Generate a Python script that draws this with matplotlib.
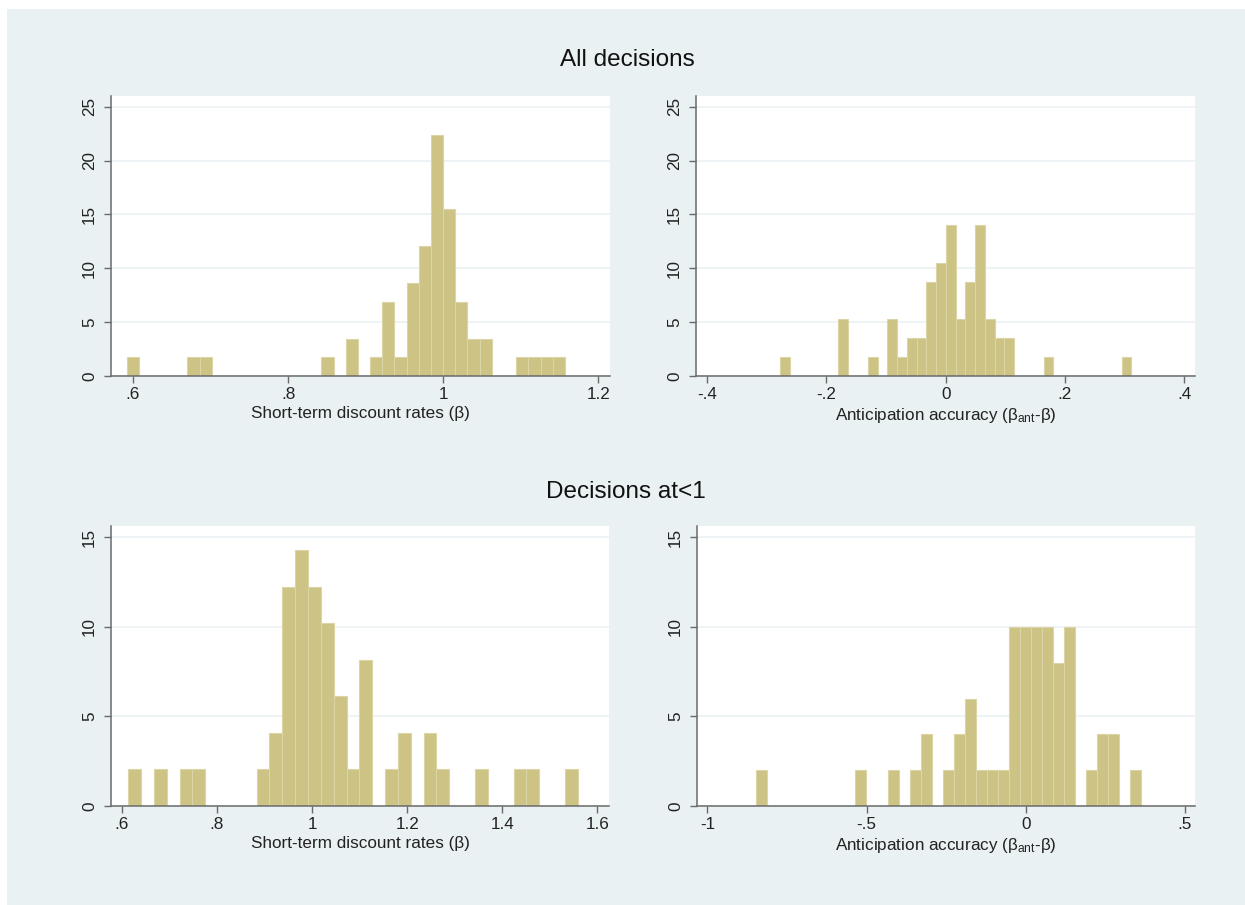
import matplotlib
matplotlib.use('Agg')
import matplotlib.pyplot as plt
import numpy as np
from matplotlib.patches import Rectangle

plt.rcParams['font.family'] = ['Liberation Sans', 'DejaVu Sans']
plt.rcParams['mathtext.fontset'] = 'custom'
plt.rcParams['mathtext.rm'] = 'Liberation Sans'
plt.rcParams['mathtext.it'] = 'Liberation Sans:italic'

# ---------------- data ----------------
row_titles = ['All decisions', 'Decisions at<1']
xlabel_beta = 'Short-term discount rates (β)'
xlabel_acc = 'Anticipation accuracy (β$_{\\mathrm{ant}}$-β)'

# top-left: short-term discount rates, all decisions (percent)
p1_start, p1_width = 0.5917, 0.0157
p1_heights = [1.72, 0, 0, 0, 0, 1.72, 1.72, 0, 0, 0,
              0, 0, 0, 0, 0, 0, 1.72, 0, 3.45, 0,
              1.72, 6.9, 1.72, 8.62, 12.07, 22.41, 15.52, 6.9, 3.45, 3.45,
              0, 0, 1.72, 1.72, 1.72, 1.72]
p1_xticks = [0.6, 0.8, 1.0, 1.2]
p1_xticklabels = ['.6', '.8', '1', '1.2']

# top-right: anticipation accuracy, all decisions
p2_start, p2_width = -0.2779, 0.01637
p2_heights = [1.75, 0, 0, 0, 0, 0, 5.26, 0, 0, 1.75,
              0, 5.26, 1.75, 3.51, 3.51, 8.77, 10.53, 14.04, 5.26, 8.77,
              14.04, 5.26, 3.51, 3.51, 0, 0, 0, 1.75, 0, 0,
              0, 0, 0, 0, 0, 1.75]
p2_xticks = [-0.4, -0.2, 0.0, 0.2, 0.4]
p2_xticklabels = ['-.4', '-.2', '0', '.2', '.4']

# bottom-left: short-term discount rates, decisions at<1
p3_start, p3_width = 0.6135, 0.0270
p3_heights = [2.04, 0, 2.04, 0, 2.04, 2.04, 0, 0, 0, 0,
              2.04, 4.08, 12.24, 14.29, 12.24, 10.2, 6.12, 2.04, 8.16, 0,
              2.04, 4.08, 0, 4.08, 2.04, 0, 0, 2.04, 0, 0,
              2.04, 2.04, 0, 0, 2.04]
p3_xticks = [0.6, 0.8, 1.0, 1.2, 1.4, 1.6]
p3_xticklabels = ['.6', '.8', '1', '1.2', '1.4', '1.6']

# bottom-right: anticipation accuracy, decisions at<1
p4_start, p4_width = -0.847, 0.0345
p4_heights = [2, 0, 0, 0, 0, 0, 0, 0, 0, 2,
              0, 0, 2, 0, 2, 4, 0, 2, 4, 6,
              2, 2, 2, 10, 10, 10, 10, 8, 10, 0,
              2, 4, 4, 0, 2]
p4_xticks = [-1.0, -0.5, 0.0, 0.5]
p4_xticklabels = ['-1', '-.5', '0', '.5']

top_yticks = [0, 5, 10, 15, 20, 25]
bottom_yticks = [0, 5, 10, 15]

# ---------------- style ----------------
BG = '#eaf1f3'
GRID = '#edf3f4'
BAR = '#ccc384'
BAR_EDGE = '#dcd5a6'
AXC = '#6a6a6a'
W, H = 1245, 905
FS = 12.3

fig = plt.figure(figsize=(W / 100, H / 100), dpi=100)
fig.patch.set_facecolor('white')
fig.add_artist(Rectangle((7 / W, 0), 1 - 7 / W, 1 - 9 / H, transform=fig.transFigure,
                         facecolor=BG, edgecolor='none', zorder=-10))


def px_rect(l, t, r, b):
    return [l / W, 1 - b / H, (r - l) / W, (b - t) / H]


panels = [
    dict(rect=px_rect(111, 96, 610, 376), start=p1_start, width=p1_width, heights=p1_heights,
         xlim=(0.5716, 1.2151), ylim=(0, 26.0), xticks=p1_xticks, xtl=p1_xticklabels,
         yticks=top_yticks, xlabel=xlabel_beta),
    dict(rect=px_rect(696, 96, 1195, 376), start=p2_start, width=p2_width, heights=p2_heights,
         xlim=(-0.4185, 0.418), ylim=(0, 26.0), xticks=p2_xticks, xtl=p2_xticklabels,
         yticks=top_yticks, xlabel=xlabel_acc),
    dict(rect=px_rect(111, 526, 609, 806), start=p3_start, width=p3_width, heights=p3_heights,
         xlim=(0.5775, 1.6242), ylim=(0, 15.63), xticks=p3_xticks, xtl=p3_xticklabels,
         yticks=bottom_yticks, xlabel=xlabel_beta),
    dict(rect=px_rect(697, 526, 1195, 806), start=p4_start, width=p4_width, heights=p4_heights,
         xlim=(-1.0324, 0.5315), ylim=(0, 15.63), xticks=p4_xticks, xtl=p4_xticklabels,
         yticks=bottom_yticks, xlabel=xlabel_acc),
]

for p in panels:
    ax = fig.add_axes(p['rect'])
    ax.set_facecolor('white')
    h = np.array(p['heights'], dtype=float)
    edges = p['start'] + p['width'] * np.arange(len(h))
    mask = h > 0
    ax.bar(edges[mask], h[mask], width=p['width'], align='edge',
           color=BAR, edgecolor=BAR_EDGE, linewidth=0.8, zorder=2)
    ax.set_xlim(*p['xlim'])
    ax.set_ylim(*p['ylim'])
    ax.set_xticks(p['xticks'])
    ax.set_xticklabels(p['xtl'], fontsize=FS, color='#222222')
    ax.set_yticks(p['yticks'])
    ax.set_yticklabels([str(v) for v in p['yticks']], fontsize=FS, rotation=90,
                       va='center', color='#222222')
    ax.grid(axis='y', color=GRID, linewidth=1.3)
    ax.set_axisbelow(True)
    for s in ['top', 'right']:
        ax.spines[s].set_visible(False)
    for s in ['left', 'bottom']:
        ax.spines[s].set_color(AXC)
        ax.spines[s].set_linewidth(1.1)
    ax.tick_params(axis='both', direction='out', length=5, width=1.0, color=AXC)
    ax.tick_params(axis='x', pad=3)
    ax.tick_params(axis='y', pad=5)
    ax.set_xlabel(p['xlabel'], fontsize=FS, color='#222222', labelpad=3)

fig.text(627 / W, 1 - 60 / H, row_titles[0], ha='center', va='center', fontsize=17.5, color='#111111')
fig.text(626 / W, 1 - 492 / H, row_titles[1], ha='center', va='center', fontsize=17.5, color='#111111')

fig.savefig('out.png', dpi=100, facecolor=fig.get_facecolor())
